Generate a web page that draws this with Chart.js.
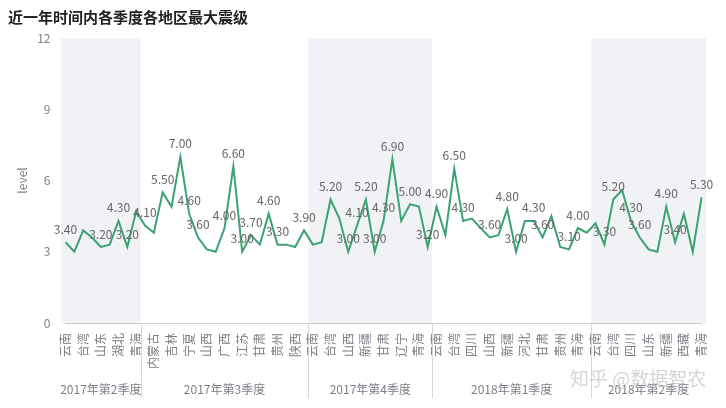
<!DOCTYPE html>
<html lang="zh">
<head>
    <meta charset="UTF-8">
    <title>近一年时间内各季度各地区最大震级</title>
    <script src="https://cdn.jsdelivr.net/npm/chart.js@4.4.1/dist/chart.umd.min.js"></script>
    <style>
        html, body { margin: 0; padding: 0; background: #fff; }
        #wrap { width: 726px; height: 408px; }
    </style>
</head>
<body>
    <div id="wrap"><canvas id="quakeChart" width="726" height="408"></canvas></div>

    <script>
        // visible x labels (every other point carries a name)
        const xLabels = ['云南', '台湾', '山东', '湖北', '青海',
            '内蒙古', '吉林', '宁夏', '山西', '广西', '江苏', '甘肃', '贵州', '陕西',
            '云南', '台湾', '山西', '新疆', '甘肃', '辽宁', '青海',
            '云南', '台湾', '四川', '山西', '新疆', '河北', '甘肃', '贵州', '青海',
            '云南', '台湾', '四川', '山东', '新疆', '西藏', '青海'];

        // max magnitude per point
        const magnitudes = [
            3.4, 3.0, 3.9, 3.6, 3.2, 3.3, 4.3, 3.2, 4.7,
            4.1, 3.8, 5.5, 4.9, 7.0, 4.6, 3.6, 3.1, 3.0, 4.0, 6.6, 3.0, 3.7, 3.3, 4.6, 3.3, 3.3, 3.2, 3.9,
            3.3, 3.4, 5.2, 4.4, 3.0, 4.1, 5.2, 3.0, 4.3, 6.9, 4.3, 5.0, 4.9, 3.2,
            4.9, 3.7, 6.5, 4.3, 4.4, 4.0, 3.6, 3.7, 4.8, 3.0, 4.3, 4.3, 3.6, 4.5, 3.2, 3.1, 4.0, 3.8,
            4.2, 3.3, 5.2, 5.6, 4.3, 3.6, 3.1, 3.0, 4.9, 3.4, 4.6, 3.0, 5.3
        ];

        // points whose value label is visible in the chart
        const labelled = [0, 4, 6, 7, 9, 11, 13, 14, 15, 18, 19, 20, 21, 23, 24, 27,
            30, 32, 33, 34, 35, 36, 37, 39, 41, 42, 44, 45, 48, 50, 51, 53, 54, 57, 58,
            61, 62, 64, 65, 68, 69, 72];

        const quarters = ['2017年第2季度', '2017年第3季度', '2017年第4季度', '2018年第1季度', '2018年第2季度'];
        const quarterSizes = [9, 19, 14, 18, 13];

        const FONT = '"Noto Sans CJK SC", "Noto Sans", sans-serif';
        const AXIS_COLOR = '#7d7f86';

        const categories = magnitudes.map((v, i) => i % 2 === 0 ? xLabels[i / 2] : '');

        // shaded quarter bands + quarter names under the axis
        const quarterPlugin = {
            id: 'quarterPlugin',
            beforeDraw(chart) {
                const {ctx, chartArea, scales: {x}} = chart;
                const half = (x.getPixelForValue(1) - x.getPixelForValue(0)) / 2;
                let start = 0;
                ctx.save();
                ctx.fillStyle = '#f1f2f5';
                quarterSizes.forEach((n, q) => {
                    if (q % 2 === 0) {
                        const x0 = x.getPixelForValue(start) - half;
                        const x1 = x.getPixelForValue(start + n - 1) + half;
                        ctx.fillRect(x0, chartArea.top, x1 - x0, chartArea.bottom - chartArea.top);
                    }
                    start += n;
                });
                ctx.restore();
            },
            afterDraw(chart) {
                const {ctx, chartArea, scales: {x}} = chart;
                const half = (x.getPixelForValue(1) - x.getPixelForValue(0)) / 2;
                let start = 0;
                ctx.save();
                ctx.font = '12px ' + FONT;
                ctx.fillStyle = AXIS_COLOR;
                ctx.textAlign = 'center';
                ctx.textBaseline = 'middle';
                ctx.strokeStyle = '#d6d6d6';
                ctx.lineWidth = 1;
                quarterSizes.forEach((n, q) => {
                    const x0 = x.getPixelForValue(start) - half;
                    const x1 = x.getPixelForValue(start + n - 1) + half;
                    ctx.fillText(quarters[q], (x0 + x1) / 2, chartArea.bottom + 66);
                    if (q > 0) {
                        ctx.beginPath();
                        ctx.moveTo(Math.round(x0) + 0.5, chartArea.bottom);
                        ctx.lineTo(Math.round(x0) + 0.5, chartArea.bottom + 75);
                        ctx.stroke();
                    }
                    start += n;
                });
                // site watermark
                ctx.font = '19px ' + FONT;
                ctx.fillStyle = 'rgba(185, 185, 185, 0.6)';
                ctx.textAlign = 'left';
                ctx.fillText('知乎 @数据智农', 570, 379);
                ctx.restore();
            }
        };

        // value labels above the line
        const valueLabels = {
            id: 'valueLabels',
            afterDatasetsDraw(chart) {
                const {ctx} = chart;
                const meta = chart.getDatasetMeta(0);
                ctx.save();
                ctx.font = '12px ' + FONT;
                ctx.fillStyle = '#666';
                ctx.textAlign = 'center';
                ctx.textBaseline = 'middle';
                labelled.forEach(i => {
                    const pt = meta.data[i];
                    ctx.fillText(magnitudes[i].toFixed(2), pt.x, pt.y - 13);
                });
                ctx.restore();
            }
        };

        const ctx = document.getElementById('quakeChart').getContext('2d');
        new Chart(ctx, {
            type: 'line',
            data: {
                labels: categories,
                datasets: [{
                    label: 'level',
                    data: magnitudes,
                    borderColor: '#3ba272',
                    borderWidth: 2,
                    pointRadius: 0,
                    pointHoverRadius: 0,
                    tension: 0,
                    fill: false
                }]
            },
            options: {
                responsive: false,
                animation: false,
                layout: {
                    padding: { left: 8, right: 22, top: 0, bottom: 0 }
                },
                scales: {
                    x: {
                        grid: { display: false, drawTicks: false },
                        border: { display: true, color: '#cccccc', width: 1 },
                        ticks: {
                            autoSkip: false,
                            minRotation: 90,
                            maxRotation: 90,
                            padding: 10,
                            color: AXIS_COLOR,
                            font: { size: 12, family: FONT }
                        },
                        afterFit(scale) { scale.height = 85; }
                    },
                    y: {
                        min: 0,
                        max: 12,
                        grid: { display: false, drawTicks: false },
                        border: { display: false },
                        ticks: {
                            stepSize: 3,
                            padding: 15,
                            color: AXIS_COLOR,
                            font: { size: 12, family: FONT }
                        },
                        title: {
                            display: true,
                            text: 'level',
                            color: AXIS_COLOR,
                            font: { size: 12, family: FONT },
                            padding: { top: 7, bottom: 0 }
                        },
                        afterFit(scale) { scale.width = 57.5; }
                    }
                },
                plugins: {
                    legend: { display: false },
                    tooltip: { enabled: false },
                    title: {
                        display: true,
                        text: '近一年时间内各季度各地区最大震级',
                        align: 'start',
                        color: '#222',
                        font: { size: 15, weight: 'bold', family: FONT },
                        padding: { top: 8, bottom: 12 }
                    }
                }
            },
            plugins: [quarterPlugin, valueLabels]
        });
    </script>
</body>
</html>
